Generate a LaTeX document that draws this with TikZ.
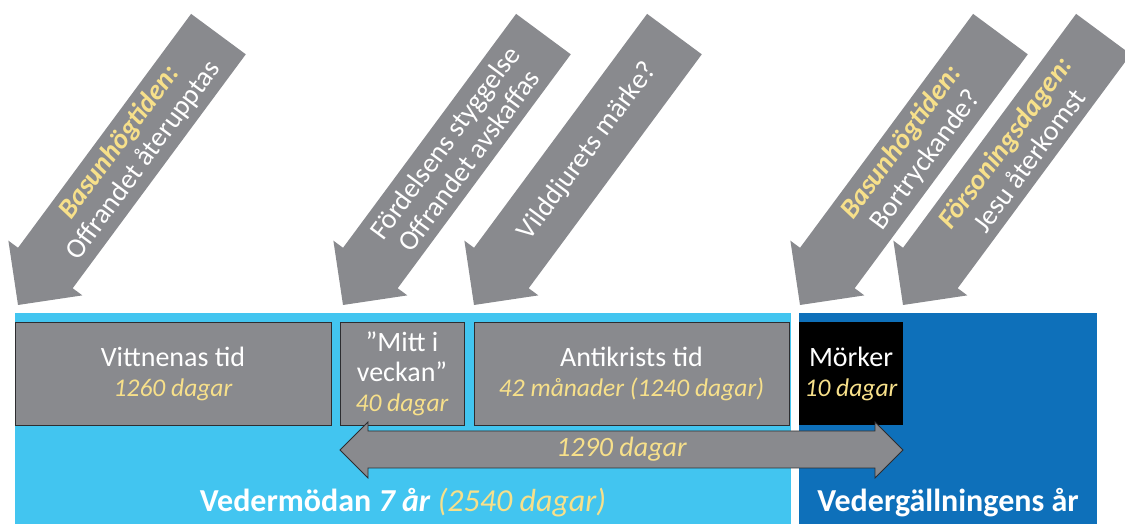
\documentclass[tikz,border=0pt]{standalone}
\usepackage{fontspec}
\setmainfont{Carlito}
\definecolor{boxgray}{RGB}{137,138,142}
\definecolor{lightblue}{RGB}{66,197,240}
\definecolor{darkblue}{RGB}{14,112,186}
\definecolor{textyellow}{RGB}{247,224,138}
\definecolor{edgegray}{RGB}{45,45,48}
\tikzset{
	period/.style={draw=edgegray, line width=0.8pt, fill=boxgray, text=white, align=center, inner sep=0pt, font=\fontsize{28}{30}\selectfont},
	tilttext/.style={text=white, align=center, inner sep=0pt, font=\fontsize{28}{30}\selectfont},
	banner/.style={text=white, anchor=base, font=\fontsize{32}{36}\selectfont\bfseries},
	days/.style={text=textyellow, font=\fontsize{28}{30}\selectfont\itshape},
}
\newcommand{\hl}[1]{{\bfseries\itshape\color{textyellow}#1}}
\newcommand{\dg}[1]{{\fontsize{25.5}{30}\selectfont\itshape\color{textyellow}#1}}
\def\tiltarrow(#1)#2#3{
	\begin{scope}[shift={(#1)},rotate=53.5]
		\fill[boxgray] (0,0) -- (46,46) -- (46,34) -- (337,34) -- (337,-34) -- (46,-34) -- (46,-46) -- cycle;
		\node[tilttext, transform shape] (#2) at (191,0) {#3};
	\end{scope}
}

\begin{document}
\begin{tikzpicture}[x=1pt, y=1pt]
		%%%%% START %%%%%
		\useasboundingbox (0,0) rectangle (1125,524);
		
		\fill[lightblue] (15,0) rectangle (791,211);
		\fill[darkblue] (799,0) rectangle (1097,211);
		
		\node[period, minimum width=316pt, minimum height=103pt] (vittnen) at (173,150.5) {Vittnenas tid\\\dg{1260 dagar}};
		\node[period, minimum width=124pt, minimum height=103pt] (mitt) at (402,150.5) {”Mitt i\\veckan”\\\dg{40 dagar}};
		\node[period, minimum width=315pt, minimum height=103pt] (antikrist) at (631.5,150.5) {Antikrists tid\\\dg{42 månader (1240 dagar)}};
		\node[period, draw=none, fill=black, minimum width=104pt, minimum height=103pt] (morker) at (851,150.5) {Mörker\\\dg{10 dagar}};
		
		\draw[fill=boxgray, draw=edgegray, line width=0.8pt] (340,74) -- (368,102) -- (368,93) -- (875,93) -- (875,102) -- (903,74) -- (875,46) -- (875,56) -- (368,56) -- (368,46) -- cycle;
		\node[days] (span) at (621.5,74.5) {1290 dagar};
		
		\node[banner] (vedermoda) at (403,12) {Vedermödan \textit{7 år} {\mdseries\dg{\fontsize{32}{36}\selectfont(2540 dagar)}}};
		\node[banner] (vedergallning) at (948,12) {Vedergällningens år};
		
		\tiltarrow(18,219){basun}{\hl{Basunhögtiden:}\\Offrandet återupptas}
		\tiltarrow(343,219){styggelse}{Fördelsens styggelse\\Offrandet avskaffas}
		\tiltarrow(474,219){markning}{Vilddjurets märke?}
		\tiltarrow(800,219){bortryck}{\hl{Basunhögtiden:}\\Bortryckande?}
		\tiltarrow(903,219){forsoning}{\hl{Försoningsdagen:}\\Jesu återkomst}
		
		%%%%% END %%%%%
	\end{tikzpicture}
\end{document}
